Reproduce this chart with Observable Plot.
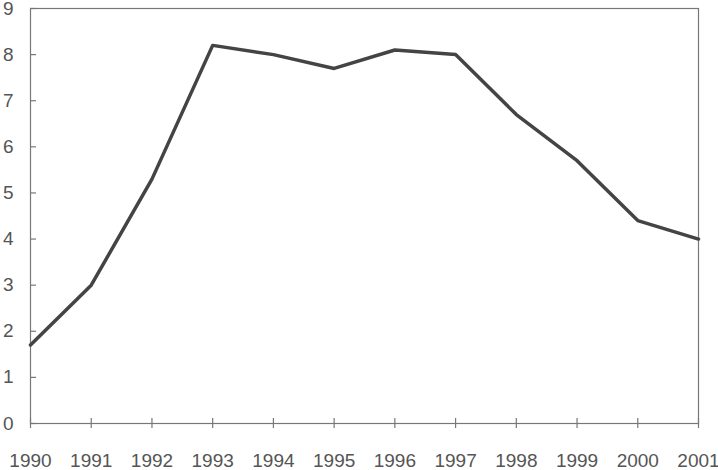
<!DOCTYPE html>
<html><head><meta charset="utf-8">
<script src="https://cdn.jsdelivr.net/npm/d3@7"></script>
<script src="https://cdn.jsdelivr.net/npm/@observablehq/plot@0.6"></script>
<style>body{margin:0;background:#fff}</style>
</head><body><div id="chart"></div>
<script>
const years = [1990,1991,1992,1993,1994,1995,1996,1997,1998,1999,2000,2001];
const values = [1.7,3.0,5.3,8.2,8.0,7.7,8.1,8.0,6.7,5.7,4.4,4.0];
const yTicks = [0,1,2,3,4,5,6,7,8,9];
const data = years.map((y,i)=>({year:y, value:values[i]}));
const axisColor = "#777";
const chart = Plot.plot({
  width: 718, height: 470,
  marginLeft: 30, marginRight: 20, marginTop: 8, marginBottom: 47,
  style: {fontFamily: "'Liberation Sans', Arial, sans-serif", fontSize: "19px", color: "#555", background: "#fff", overflow: "visible"},
  x: {domain: [1990, 2001], label: null},
  y: {domain: [0, 9], label: null},
  marks: [
    Plot.frame({stroke: axisColor, strokeWidth: 1.2}),
    Plot.axisY(yTicks, {anchor: "left", tickSize: 0, tickPadding: 17, fill: "#555", fontSize: 19, label: null}),
    Plot.axisY(yTicks, {anchor: "left", tickSize: 6, dx: 6, text: null, stroke: axisColor, strokeWidth: 1.2, label: null}),
    Plot.axisX(years, {anchor: "bottom", tickSize: 10, dy: -5, text: null, stroke: axisColor, strokeWidth: 1.2, label: null}),
    Plot.axisX(years, {anchor: "bottom", tickSize: 0, tickPadding: 30, tickFormat: d => String(d), fill: "#555", fontSize: 19, label: null}),
    Plot.line(data, {x: "year", y: "value", stroke: "#444", strokeWidth: 3.5, strokeLinejoin: "round"})
  ]
});
document.getElementById("chart").append(chart);
</script></body></html>
